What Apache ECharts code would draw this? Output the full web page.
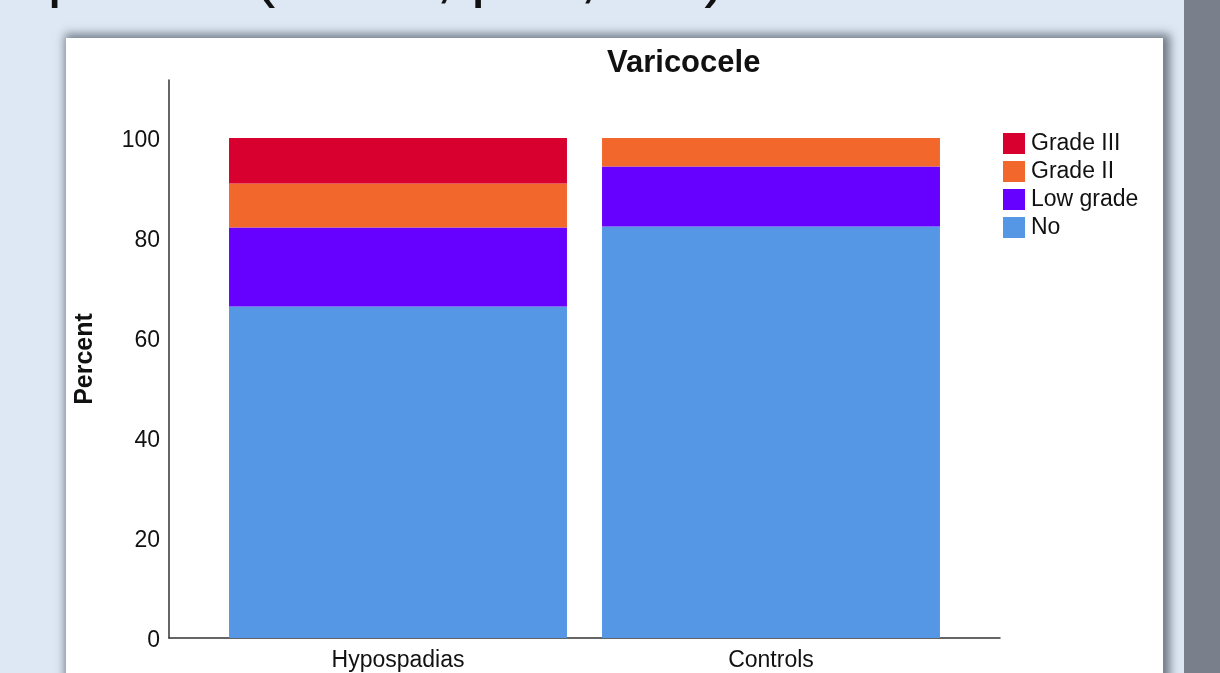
<!DOCTYPE html>
<html>
<head>
<meta charset="utf-8">
<script src="https://cdn.jsdelivr.net/npm/echarts@6/dist/echarts.min.js"></script>
<style>
    html, body {
        margin: 0;
        padding: 0;
        width: 1220px;
        height: 673px;
        overflow: hidden;
        background: #dde8f4;
    }
    .panel {
        position: absolute;
        left: 66px;
        top: 38px;
        width: 1097px;
        height: 700px;
        background: #fff;
        box-shadow: 3px 0 9px 4px rgba(95, 105, 118, 0.85);
    }
    .sidebar {
        position: absolute;
        left: 1184px;
        top: 0;
        width: 36px;
        height: 673px;
        background: #7a808b;
    }
    #chart {
        position: absolute;
        left: 0;
        top: 0;
        width: 1220px;
        height: 673px;
    }
</style>
</head>
<body>
<div class="panel"></div>
<div class="sidebar"></div>
<div id="chart"></div>
<script>
    // groups on the x axis
    var categories = ['Hypospadias', 'Controls'];
    // percent per group
    var noGrade = [66.3, 82.3];
    var lowGrade = [15.8, 12.0];
    var grade2 = [8.8, 5.7];
    var grade3 = [9.1, 0];
    var legendOrder = ['Grade III', 'Grade II', 'Low grade', 'No'];
    var yTicks = [0, 20, 40, 60, 80, 100];

    var font = 'Liberation Sans, Arial, sans-serif';
    var yMax = 111.6;

    var chartDom = document.getElementById('chart');
    var myChart = echarts.init(chartDom);
    var option;

    function barSeries(name, data, color) {
        return {
            name: name,
            type: 'bar',
            stack: 'total',
            xAxisIndex: 1,
            yAxisIndex: 1,
            barCategoryGap: '9.4%',
            itemStyle: { color: color },
            data: data
        };
    }

    option = {
        backgroundColor: 'transparent',
        animation: false,
        textStyle: { fontFamily: font },
        title: {
            text: 'Varicocele',
            left: 602,
            top: 43,
            textStyle: { fontFamily: font, fontSize: 31, fontWeight: 'bold', color: '#111' }
        },
        legend: {
            orient: 'vertical',
            left: 998,
            top: 127,
            icon: 'rect',
            itemWidth: 22,
            itemHeight: 21,
            itemGap: 5,
            data: legendOrder,
            textStyle: { fontFamily: font, fontSize: 23, lineHeight: 23, color: '#111', padding: [0, 0, 0, 1] }
        },
        graphic: [{
            type: 'text',
            left: -20,
            top: -55,
            style: {
                text: 'ospadias (31/40, p=0,000)',
                fontFamily: font,
                fontSize: 64,
                fill: '#111'
            }
        }],
        grid: [
            { left: 169, right: 220, top: 80, bottom: 35 },
            { left: 211.5, right: 262.5, top: 80, bottom: 35 }
        ],
        xAxis: [
            {
                gridIndex: 0,
                type: 'value',
                min: 0,
                max: 1,
                axisLine: { show: true, lineStyle: { color: '#333', width: 1.5 } },
                axisTick: { show: false },
                axisLabel: { show: false },
                splitLine: { show: false }
            },
            {
                gridIndex: 1,
                type: 'category',
                data: categories,
                axisLine: { show: false },
                axisTick: { show: false },
                axisLabel: { fontFamily: font, fontSize: 23, color: '#111', margin: 11 }
            }
        ],
        yAxis: [
            {
                gridIndex: 0,
                type: 'value',
                min: 0,
                max: yMax,
                interval: 20,
                name: 'Percent',
                nameLocation: 'middle',
                nameGap: 71,
                nameTextStyle: { fontFamily: font, fontSize: 25, fontWeight: 'bold', color: '#111' },
                axisLine: { show: true, lineStyle: { color: '#333', width: 1.5 } },
                axisTick: { show: false },
                splitLine: { show: false },
                axisLabel: {
                    fontFamily: font,
                    fontSize: 23,
                    color: '#111',
                    margin: 9,
                    verticalAlign: 'top',
                    lineHeight: 6,
                    showMaxLabel: false,
                    formatter: function (v) {
                        return yTicks.indexOf(v) >= 0 ? String(v) : '';
                    }
                }
            },
            {
                gridIndex: 1,
                type: 'value',
                min: 0,
                max: yMax,
                show: false
            }
        ],
        series: [
            barSeries('No', noGrade, '#5596e5'),
            barSeries('Low grade', lowGrade, '#6600ff'),
            barSeries('Grade II', grade2, '#f2672b'),
            barSeries('Grade III', grade3, '#d7002f')
        ]
    };

    option && myChart.setOption(option);
</script>
</body>
</html>
